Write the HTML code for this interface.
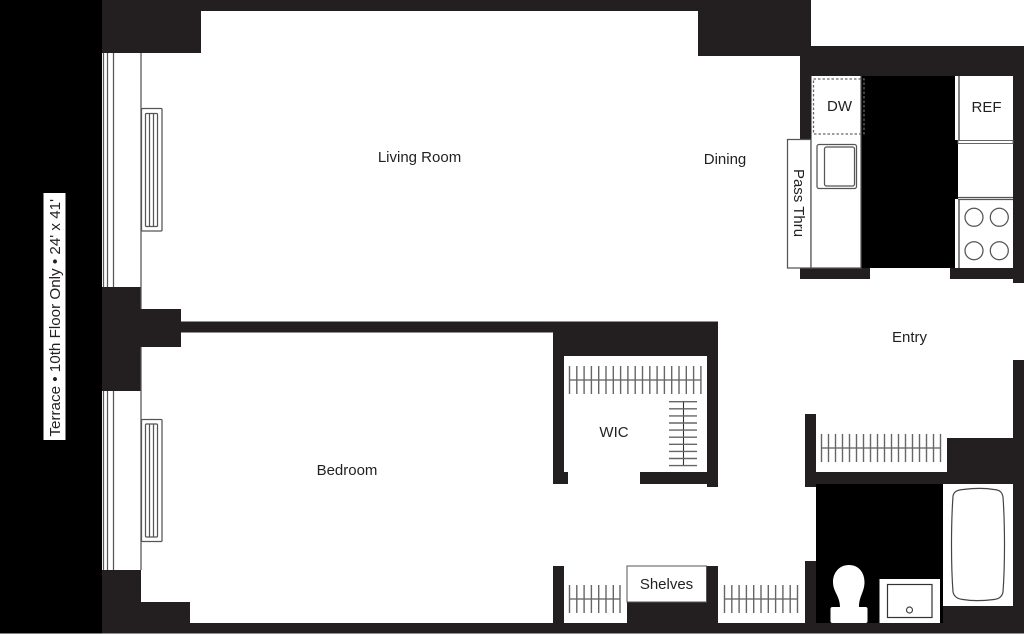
<!DOCTYPE html>
<html>
<head>
<meta charset="utf-8">
<style>
html,body{margin:0;padding:0;background:#fff}
svg{display:block}
text{font-family:"Liberation Sans",sans-serif;font-size:15px;fill:#231f20;text-anchor:middle}
.w{fill:#231f20}
.k{fill:#000}
.l{fill:none;stroke:#555;stroke-width:1.25}
.t{stroke:#666;stroke-width:1.4}
.h{stroke:#333;stroke-width:1.1}
</style>
</head>
<body>
<svg width="1024" height="635" viewBox="0 0 1024 635" xmlns="http://www.w3.org/2000/svg">
<rect width="1024" height="635" fill="#fff"/>
<!-- terrace -->
<rect x="0" y="0" width="102" height="633.5" class="k"/>
<rect x="43.5" y="193" width="22" height="247" fill="#fff"/>
<text transform="translate(60,317.8) rotate(-90)" style="font-size:15.2px">Terrace • 10th Floor Only • 24' x 41'</text>
<!-- walls -->
<g class="w">
<rect x="102" y="0" width="709" height="11"/>
<rect x="102" y="11" width="99" height="42"/>
<rect x="698" y="11" width="113" height="45"/>
<rect x="102" y="287" width="39" height="104"/>
<rect x="141" y="309" width="40" height="38"/>
<rect x="181" y="321.5" width="537" height="11"/>
<rect x="102" y="570" width="39" height="63.5"/>
<rect x="141" y="602" width="49" height="21"/>
<rect x="102" y="623" width="922" height="10.5"/>
<rect x="553" y="321.5" width="165" height="34.5"/>
<rect x="553" y="356" width="11" height="128"/>
<rect x="553" y="472" width="15" height="12"/>
<rect x="707" y="356" width="11" height="131"/>
<rect x="640" y="472" width="67" height="12"/>
<rect x="553" y="566" width="11" height="57"/>
<rect x="627" y="602" width="91" height="21"/>
<rect x="706.5" y="566" width="11.5" height="36"/>
<rect x="805" y="561" width="11" height="62"/>
<rect x="805" y="414" width="11" height="73"/>
<rect x="805" y="472" width="142" height="12"/>
<rect x="947" y="438" width="66" height="46"/>
<rect x="1013" y="360" width="11" height="273"/>
<rect x="943" y="606" width="70" height="17"/>
<!-- kitchen walls -->
<rect x="800" y="46" width="224" height="30"/>
<rect x="800" y="46" width="12" height="93"/>
<rect x="1013" y="46" width="11" height="237"/>
<rect x="800" y="268" width="70" height="11"/>
<rect x="950" y="268" width="63" height="11"/>
</g>
<!-- windows -->
<g class="l">
<path d="M103.5 53V287M107.5 53V287M113.5 53V287M141 53V309"/>
<path d="M103.5 391V570M107.5 391V570M113.5 391V570M141 347V570"/>
<rect x="141.5" y="108.5" width="20.5" height="122.5" rx="1"/>
<rect x="145.5" y="113.5" width="12" height="113" rx="1"/>
<path d="M149.5 113.5V226.5M153.5 113.5V226.5"/>
<rect x="141.5" y="419.5" width="20.5" height="122" rx="1"/>
<rect x="145.5" y="424" width="12" height="113" rx="1"/>
<path d="M149.5 424V537M153.5 424V537"/>
</g>
<!-- kitchen -->
<rect x="861" y="76" width="94" height="192" class="k"/>
<rect x="955" y="140" width="3" height="59" class="k"/>
<rect x="787.5" y="139.5" width="23.5" height="128.5" fill="#fff" stroke="#555" stroke-width="1.25"/>
<rect x="811.5" y="76" width="49.5" height="192" fill="#fff"/>
<path d="M811 139V268M861 76V268H811" class="l"/>
<path d="M813.5 79H864V134H813.5Z" fill="none" stroke="#666" stroke-width="1.3" stroke-dasharray="2.5 2"/>
<rect x="817" y="144.5" width="39.5" height="44" rx="2" class="l"/>
<rect x="824.5" y="147" width="30" height="39" rx="2" class="l"/>
<path d="M959 76V140M959 199V268" fill="none" stroke="#777" stroke-width="1.8"/>
<rect x="958" y="140.5" width="55" height="3" fill="#fff" stroke="#666" stroke-width="1"/>
<path d="M958 197.5H1013M958 199.5H1013" class="l"/>
<g class="l">
<circle cx="974" cy="217.3" r="9"/>
<circle cx="999.3" cy="217.3" r="9"/>
<circle cx="974" cy="250.7" r="9"/>
<circle cx="999.3" cy="250.7" r="9"/>
</g>
<!-- bath -->
<rect x="816" y="484" width="127" height="139" class="k"/>
<path d="M849 565C839 565 833 573 833 582C833 592 840 596 840 607L859 607C859 596 864.5 592 864.5 582C864.5 573 859 565 849 565Z" fill="#fff"/>
<rect x="830.5" y="607" width="37" height="16" rx="2" fill="#fff"/>
<rect x="879.5" y="579" width="60.5" height="44" fill="#fff"/>
<rect x="887.5" y="584.5" width="44.5" height="33" fill="none" stroke="#333" stroke-width="1.2"/>
<circle cx="909.5" cy="610" r="3" fill="none" stroke="#444" stroke-width="1.2"/>
<path d="M953 496C954 491 958 490 963 489.5C975 488 985 488 994 489.5C1000 490 1002 492 1003 497C1005 525 1005 565 1003 592C1002 597 999 599 994 599.5C982 601 972 601 963 599.5C957 599 954 596 953 592C951 565 951 525 953 496Z" fill="none" stroke="#444" stroke-width="1.2"/>
<!-- rails -->
<path class="h" d="M569.5 380H701M683.5 401V466M821.5 448H941M569.5 599H620M724.5 599H798"/>
<g class="t">
<path d="M569.5 366V394M576.8 366V394M584.1 366V394M591.4 366V394M598.7 366V394M606 366V394M613.3 366V394M620.6 366V394M627.9 366V394M635.2 366V394M642.5 366V394M649.8 366V394M657.1 366V394M664.4 366V394M671.7 366V394M679 366V394M686.3 366V394M693.6 366V394M700.9 366V394"/>
<path d="M669 401.7H697M669 408.8H697M669 415.9H697M669 423H697M669 430.1H697M669 437.2H697M669 444.3H697M669 451.4H697M669 458.5H697M669 465.6H697"/>
<path d="M821.5 434V462M828.5 434V462M835.5 434V462M842.5 434V462M849.5 434V462M856.5 434V462M863.5 434V462M870.5 434V462M877.5 434V462M884.5 434V462M891.5 434V462M898.5 434V462M905.5 434V462M912.5 434V462M919.5 434V462M926.5 434V462M933.5 434V462M940.5 434V462"/>
<path d="M569.5 585V613M576.8 585V613M584.1 585V613M591.4 585V613M598.7 585V613M606 585V613M613.3 585V613M620 585V613"/>
<path d="M724.5 585V613M731.8 585V613M739.1 585V613M746.4 585V613M753.7 585V613M761 585V613M768.3 585V613M775.6 585V613M782.9 585V613M790.2 585V613M797.5 585V613"/>
</g>
<!-- shelves -->
<rect x="627" y="566" width="79.5" height="36" fill="#fff" stroke="#555" stroke-width="1"/>
<!-- labels -->
<text x="419.5" y="162">Living Room</text>
<text x="725" y="164">Dining</text>
<text x="839.5" y="111">DW</text>
<text x="986.5" y="112">REF</text>
<text transform="translate(794,203) rotate(90)">Pass Thru</text>
<text x="909.5" y="342">Entry</text>
<text x="614" y="437">WIC</text>
<text x="347" y="475">Bedroom</text>
<text x="666.5" y="589">Shelves</text>
</svg>
</body>
</html>
